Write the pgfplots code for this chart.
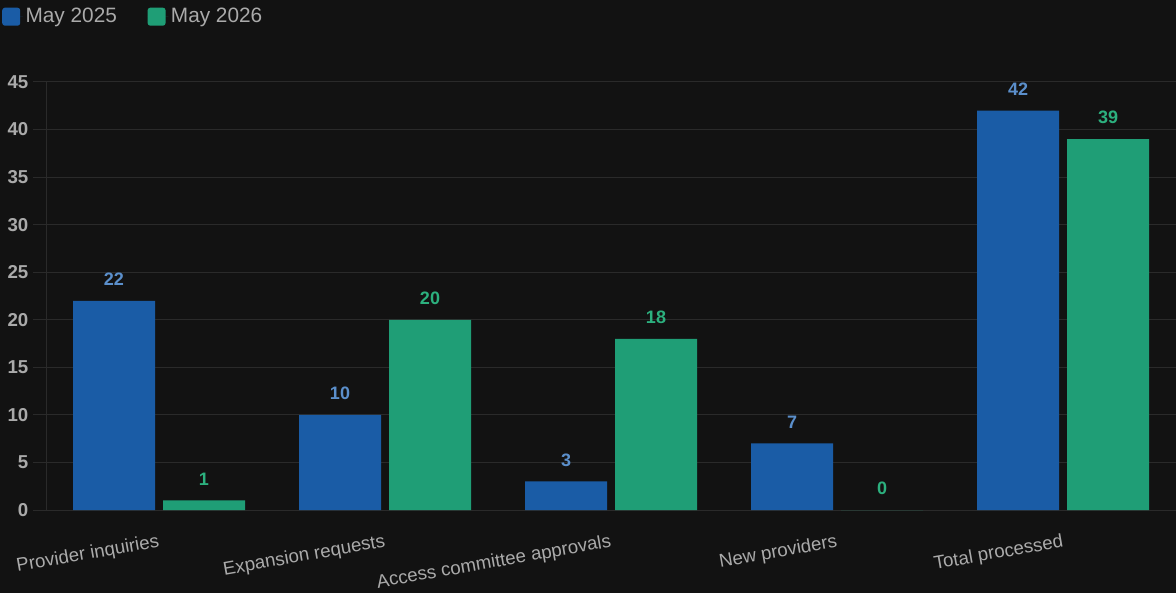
\documentclass[border=0pt]{standalone}
\usepackage{pgfplots}
\pgfplotsset{compat=1.18}
\usepackage{fontspec}
\setmainfont{Liberation Sans}
\definecolor{bg}{HTML}{121212}
\definecolor{gridc}{HTML}{2A2A2A}
\definecolor{txt}{HTML}{AAAAAA}
\definecolor{blueb}{HTML}{1A5CA6}
\definecolor{greenb}{HTML}{1F9E76}
\definecolor{bluel}{HTML}{5B8FCB}
\definecolor{greenl}{HTML}{2CB07E}
\begin{document}
\begin{tikzpicture}
\fill[bg] (0pt,0pt) rectangle (882pt,444.75pt);
\useasboundingbox (0pt,0pt) rectangle (882pt,444.75pt);
\begin{axis}[
  at={(34.5pt,62.25pt)}, anchor=south west,
  scale only axis, width=847.5pt, height=321pt,
  /pgf/number format/assume math mode=true,
  xmin=-0.5, xmax=4.5, ymin=0, ymax=45,
  ytick={0,5,...,45},
  xtick={0,1,2,3,4},
  xticklabels={Provider inquiries,Expansion requests,Access committee approvals,New providers,Total processed},
  axis x line*=bottom, axis y line*=left,
  axis line style={-, draw=gridc, line width=0.75pt},
  ymajorgrids, grid style={draw=gridc, line width=0.75pt},
  tick align=outside, major tick length=9.75pt,
  ytick style={draw=gridc, line width=0.75pt},
  xtick style={draw=none},
  yticklabel style={font=\bfseries\fontsize{14}{16}\selectfont, text=txt},
  xticklabel style={font=\fontsize{14}{16}\selectfont, text=txt, rotate=10, anchor=north east, yshift=-4pt, xshift=1pt},
  ybar, bar width=61.5pt,
  legend style={at={(-0.0425,1.185)}, anchor=north west, draw=none, fill=none,
    text=txt, font=\fontsize{15.6}{17}\selectfont, legend columns=2,
    /tikz/every even column/.append style={column sep=21pt}},
  legend image code/.code={\fill[#1, draw=none, rounded corners=2pt] (0pt,-6.75pt) rectangle (13.5pt,6.75pt);\path (0pt,0pt) -- (15.5pt,0pt);},
]
\addplot[fill=blueb, draw=none, bar shift=-33.75pt,
  nodes near coords,
  every node near coord/.append style={anchor=south, inner sep=0pt, yshift=11pt, text=bluel, font=\bfseries\fontsize{13.5}{15}\selectfont}]
  coordinates {(0,22) (1,10) (2,3) (3,7) (4,42)};
\addplot[fill=greenb, draw=none, bar shift=33.75pt,
  nodes near coords,
  every node near coord/.append style={anchor=south, inner sep=0pt, yshift=11pt, text=greenl, font=\bfseries\fontsize{13.5}{15}\selectfont}]
  coordinates {(0,1) (1,20) (2,18) (3,0) (4,39)};
\legend{May 2025, May 2026}
\end{axis}
\end{tikzpicture}
\end{document}
